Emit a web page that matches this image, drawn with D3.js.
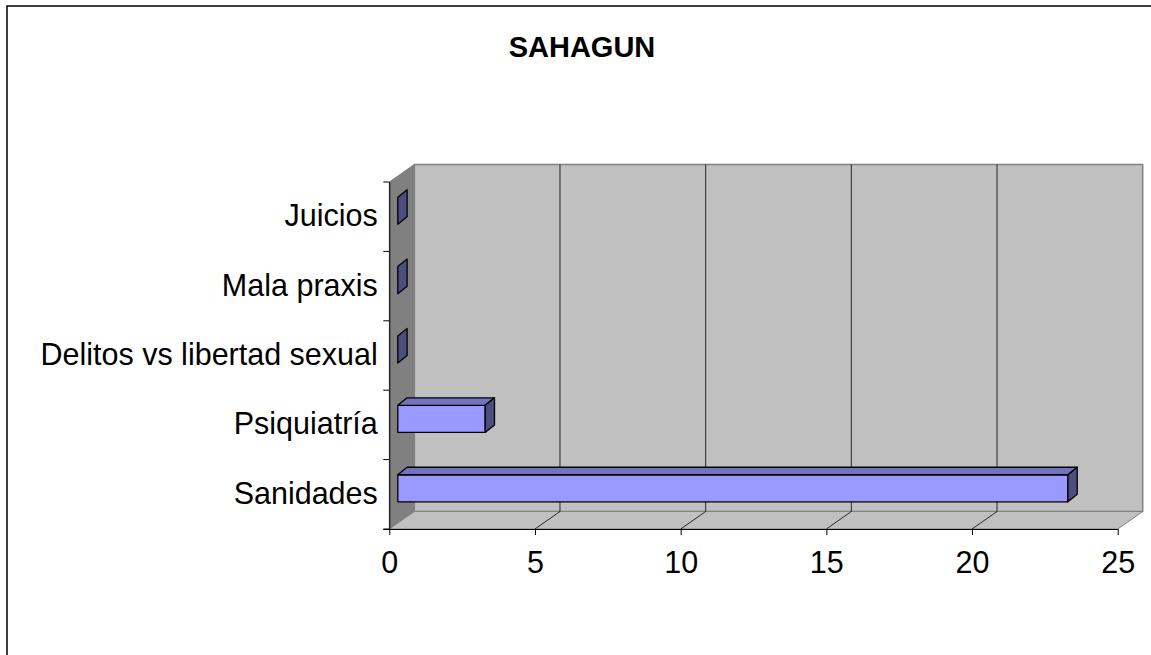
<!DOCTYPE html>
<meta charset="utf-8">
<title>SAHAGUN</title>
<style>
body {
  margin: 0;
  background: #fff;
}
text {
  font-family: "Liberation Sans", Arial, sans-serif;
  fill: #000;
}
</style>
<body>
<script src="https://cdnjs.cloudflare.com/ajax/libs/d3/7.8.5/d3.min.js"></script>
<script>
var categories = ["Sanidades", "Psiquiatría", "Delitos vs libertad sexual", "Mala praxis", "Juicios"],
    values = [23, 3, 0, 0, 0],
    ticks = [0, 5, 10, 15, 20, 25];

var w = 1151,
    h = 655,
    dx = 25, dy = -17.5,      // depth of the floor / walls
    fx = 8.5, fy = -6,        // bar front plane offset
    bx = 9.3, by = -7.5;      // bar depth

var x = d3.scaleLinear().domain([0, 25]).range([389.3, 1117.7]);
var y = d3.scaleBand().domain(categories).range([529, 182]);

var svg = d3.select("body").append("svg")
    .attr("width", w)
    .attr("height", h);

// outer frame
svg.append("rect")
    .attr("x", 7).attr("y", 6)
    .attr("width", 1170).attr("height", 655)
    .style("fill", "none")
    .style("stroke", "#000")
    .style("stroke-width", 1.5);

svg.append("text")
    .attr("x", 582).attr("y", 57)
    .attr("text-anchor", "middle")
    .style("font-size", "29px")
    .style("font-weight", "bold")
    .text("SAHAGUN");

var x0 = x(0), x1 = x(25), yTop = y.range()[1], yBot = y.range()[0];

function poly(pts) { return pts.map(function(p) { return p.join(","); }).join(" "); }

// back wall
svg.append("polygon")
    .attr("points", poly([[x0 + dx, yTop + dy], [x1 + dx, yTop + dy], [x1 + dx, yBot + dy], [x0 + dx, yBot + dy]]))
    .style("fill", "#c0c0c0")
    .style("stroke", "#808080")
    .style("stroke-width", 1.5);

// left wall
svg.append("polygon")
    .attr("points", poly([[x0, yTop], [x0 + dx, yTop + dy], [x0 + dx, yBot + dy], [x0, yBot]]))
    .style("fill", "#808080")
    .style("stroke", "#808080");

// floor
svg.append("polygon")
    .attr("points", poly([[x0, yBot], [x1, yBot], [x1 + dx, yBot + dy], [x0 + dx, yBot + dy]]))
    .style("fill", "#c0c0c0")
    .style("stroke", "#808080");

// gridlines on wall and floor
var inner = ticks.filter(function(t) { return t > 0 && t < 25; });
svg.selectAll("line.gw").data(inner).enter().append("line")
    .attr("x1", function(d) { return x(d) + dx; }).attr("x2", function(d) { return x(d) + dx; })
    .attr("y1", yTop + dy).attr("y2", yBot + dy)
    .style("stroke", "#000").style("stroke-width", 0.8);
svg.selectAll("line.gf").data(inner).enter().append("line")
    .attr("x1", function(d) { return x(d); }).attr("y1", yBot)
    .attr("x2", function(d) { return x(d) + dx; }).attr("y2", yBot + dy)
    .style("stroke", "#000").style("stroke-width", 0.8);

// bars
var bh = y.bandwidth() * 0.39;
var bars = svg.selectAll("g.bar")
    .data(categories.map(function(c, i) { return {name: c, value: values[i]}; }))
  .enter().append("g");

bars.each(function(d) {
  var g = d3.select(this),
      l = x(0) + fx,
      r = x(d.value) + fx,
      t = y(d.name) + (y.bandwidth() - bh) / 2 + fy,
      b = t + bh;
  if (d.value > 0) {
    g.append("polygon")
        .attr("points", poly([[l, t], [r, t], [r, b], [l, b]]))
        .style("fill", "#9999ff");
    g.append("polygon")
        .attr("points", poly([[l, t], [l + bx, t + by], [r + bx, t + by], [r, t]]))
        .style("fill", "#7373bf");
  }
  g.append("polygon")
      .attr("points", poly([[r, t], [r + bx, t + by], [r + bx, b + by], [r, b]]))
      .style("fill", "#4d4d80");
  g.selectAll("polygon")
      .style("stroke", "#000")
      .style("stroke-width", 1.3)
      .style("stroke-linejoin", "round");
});

// axes
var xAxis = svg.append("g")
    .attr("transform", "translate(0," + yBot + ")")
    .call(d3.axisBottom(x).tickValues(ticks).tickSize(6).tickPadding(16.5).tickSizeOuter(0));
xAxis.selectAll("text").style("font-size", "30.5px").style("font-family", "Liberation Sans, Arial, sans-serif");
xAxis.select(".domain").attr("d", "M" + (x0 - 6) + ",0.5H" + x1).style("stroke", "#000");
xAxis.selectAll(".tick line").style("stroke", "#000");

var yAxis = svg.append("g")
    .attr("transform", "translate(" + x0 + ",0)")
    .call(d3.axisLeft(y).tickSize(0).tickPadding(11.5));
yAxis.selectAll("text").style("font-size", "30.5px").style("font-family", "Liberation Sans, Arial, sans-serif")
    .attr("dy", "0.31em");
yAxis.select(".domain").attr("d", "M0.5," + yTop + "V" + yBot).style("stroke", "#000");

var bounds = categories.map(function(c) { return y(c); }).concat([yBot]);
yAxis.selectAll("line.bt").data(bounds).enter().append("line")
    .attr("x1", -6).attr("x2", 0)
    .attr("y1", function(d) { return d; }).attr("y2", function(d) { return d; })
    .style("stroke", "#000");
</script>
